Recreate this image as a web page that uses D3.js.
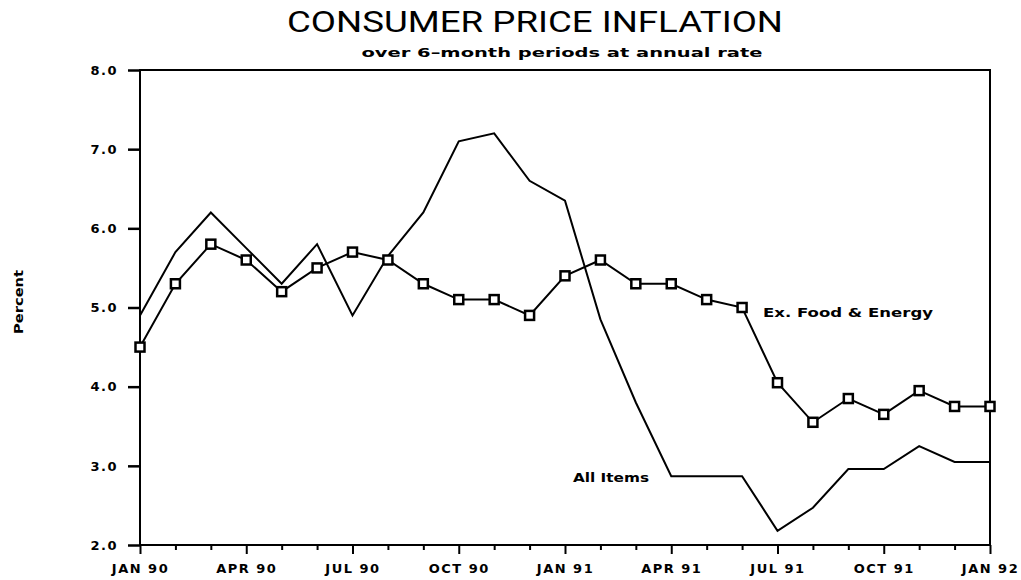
<!DOCTYPE html>
<html>
<head>
<meta charset="utf-8">
<script src="https://cdn.jsdelivr.net/npm/d3@7"></script>
<style>
  body { margin: 0; background: #fff; }
  svg { display: block; }
</style>
</head>
<body>
<script>
// chart data
var months = ["JAN 90", "FEB 90", "MAR 90", "APR 90", "MAY 90", "JUN 90", "JUL 90", "AUG 90",
    "SEP 90", "OCT 90", "NOV 90", "DEC 90", "JAN 91", "FEB 91", "MAR 91", "APR 91", "MAY 91",
    "JUN 91", "JUL 91", "AUG 91", "SEP 91", "OCT 91", "NOV 91", "DEC 91", "JAN 92"];
var allItems = [4.9, 5.7, 6.2, 5.75, 5.3, 5.8, 4.9, 5.65, 6.2, 7.1, 7.2, 6.6, 6.35,
    4.85, 3.8, 2.87, 2.87, 2.87, 2.18, 2.47, 2.96, 2.96, 3.25, 3.05, 3.05];
var exFoodEnergy = [4.5, 5.3, 5.8, 5.6, 5.2, 5.5, 5.7, 5.6, 5.3, 5.1, 5.1, 4.9, 5.4,
    5.6, 5.3, 5.3, 5.1, 5.0, 4.05, 3.55, 3.85, 3.65, 3.95, 3.75, 3.75];
var yTicks = [2, 3, 4, 5, 6, 7, 8];
var quarterLabels = ["JAN 90", "APR 90", "JUL 90", "OCT 90", "JAN 91", "APR 91", "JUL 91", "OCT 91", "JAN 92"];

// SVG dimension variables
var w = 1021, h = 580;
var plotLeft = 140, plotRight = 990, plotTop = 70, plotBottom = 545;

var svg = d3.select("body")
    .append("svg")
    .attr("width", w)
    .attr("height", h);

var x = d3.scaleLinear().domain([0, months.length - 1]).range([plotLeft, plotRight]);
var y = d3.scaleLinear().domain([2, 8]).range([plotBottom, plotTop]);

// titles
svg.append("text")
    .attr("x", 535).attr("y", 32)
    .attr("text-anchor", "middle")
    .attr("textLength", 496)
    .attr("lengthAdjust", "spacingAndGlyphs")
    .style("font-family", "Roboto, 'DejaVu Sans', sans-serif")
    .style("font-weight", 400)
    .style("font-size", "29px")
    .text("CONSUMER PRICE INFLATION");

svg.append("text")
    .attr("x", 562).attr("y", 57)
    .attr("text-anchor", "middle")
    .attr("textLength", 401)
    .attr("lengthAdjust", "spacingAndGlyphs")
    .style("font-family", "'DejaVu Sans', sans-serif")
    .style("font-weight", "bold")
    .style("font-size", "12px")
    .text("over 6–month periods at annual rate");

// y axis label
svg.append("text")
    .attr("transform", "translate(23,302) rotate(-90)")
    .attr("text-anchor", "middle")
    .attr("textLength", 64)
    .attr("lengthAdjust", "spacingAndGlyphs")
    .style("font-family", "'DejaVu Sans', sans-serif")
    .style("font-weight", "bold")
    .style("font-size", "13px")
    .text("Percent");

// frame
svg.append("rect")
    .attr("x", plotLeft).attr("y", plotTop)
    .attr("width", plotRight - plotLeft).attr("height", plotBottom - plotTop)
    .attr("fill", "none")
    .attr("stroke", "#000")
    .attr("stroke-width", 2);

// y axis
var yAxis = svg.append("g")
    .attr("transform", "translate(" + plotLeft + ",0)")
    .call(d3.axisLeft(y).tickValues(yTicks).tickFormat(d3.format(".1f")).tickSize(12).tickPadding(10));
yAxis.select(".domain").remove();
yAxis.selectAll("line").attr("stroke-width", 2.5);
yAxis.selectAll("text")
    .style("font-family", "'DejaVu Sans', sans-serif")
    .style("font-weight", "bold")
    .style("font-size", "13px")
    .style("letter-spacing", "1.5px");

// x axis: monthly ticks, longer at quarters
var xAxis = svg.append("g")
    .attr("transform", "translate(0," + plotBottom + ")")
    .call(d3.axisBottom(x).tickValues(d3.range(months.length)).tickSize(5).tickPadding(14)
        .tickFormat(function(d){
            return quarterLabels.indexOf(months[d]) >= 0 ? months[d] : "";
        }));
xAxis.select(".domain").remove();
xAxis.selectAll(".tick line")
    .attr("stroke-width", 2)
    .attr("y2", function(d){ return d % 3 === 0 ? 9 : 5; });
xAxis.selectAll("text")
    .style("font-family", "'DejaVu Sans', sans-serif")
    .style("font-weight", "bold")
    .style("font-size", "13px")
    .style("letter-spacing", "1.5px");

// lines
var line = d3.line()
    .x(function(d, i){ return x(i); })
    .y(function(d){ return y(d); });

svg.append("path")
    .datum(allItems)
    .attr("d", line)
    .attr("fill", "none")
    .attr("stroke", "#000")
    .attr("stroke-width", 2);

svg.append("path")
    .datum(exFoodEnergy)
    .attr("d", line)
    .attr("fill", "none")
    .attr("stroke", "#000")
    .attr("stroke-width", 2);

svg.selectAll(".marker")
    .data(exFoodEnergy)
    .enter()
    .append("rect")
    .attr("class", "marker")
    .attr("x", function(d, i){ return x(i) - 4.5; })
    .attr("y", function(d){ return y(d) - 4.5; })
    .attr("width", 9)
    .attr("height", 9)
    .attr("fill", "#fff")
    .attr("stroke", "#000")
    .attr("stroke-width", 2.5);

// series labels
svg.append("text")
    .attr("x", 763).attr("y", 317)
    .attr("textLength", 170)
    .attr("lengthAdjust", "spacingAndGlyphs")
    .style("font-family", "'DejaVu Sans', sans-serif")
    .style("font-weight", 600)
    .style("font-size", "13px")
    .text("Ex. Food & Energy");

svg.append("text")
    .attr("x", 573).attr("y", 482)
    .attr("textLength", 76)
    .attr("lengthAdjust", "spacingAndGlyphs")
    .style("font-family", "'DejaVu Sans', sans-serif")
    .style("font-weight", "bold")
    .style("font-size", "12px")
    .text("All Items");
</script>
</body>
</html>
